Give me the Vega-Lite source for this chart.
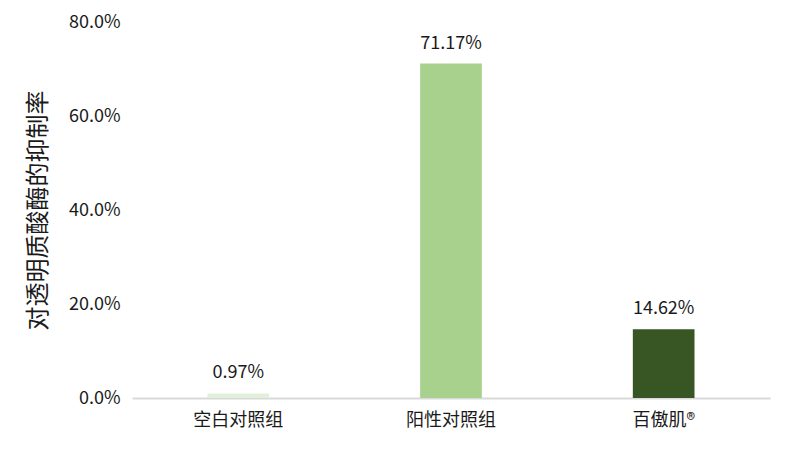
{
  "$schema": "https://vega.github.io/schema/vega-lite/v6.json",
  "width": 638,
  "height": 376,
  "autosize": {"type": "none"},
  "padding": {"left": 132, "top": 22, "right": 22, "bottom": 53},
  "background": "white",
  "data": {
    "values": [
      {"group": "空白对照组", "rate": 0.0097},
      {"group": "阳性对照组", "rate": 0.7117},
      {"group": "百傲肌®", "rate": 0.1462}
    ]
  },
  "encoding": {
    "x": {
      "field": "group",
      "type": "nominal",
      "sort": null,
      "title": null,
      "scale": {"paddingInner": 0.71, "paddingOuter": 0.355},
      "axis": {
        "labelAngle": 0,
        "ticks": false,
        "domainColor": "#d9d9d9",
        "domainWidth": 2,
        "labelPadding": 13,
        "labelFontSize": 18,
        "labelColor": "#1a1a1a"
      }
    },
    "y": {
      "field": "rate",
      "type": "quantitative",
      "title": "对透明质酸酶的抑制率",
      "scale": {"domain": [0, 0.8]},
      "axis": {
        "format": ".1%",
        "values": [0, 0.2, 0.4, 0.6, 0.8],
        "grid": false,
        "ticks": false,
        "domain": false,
        "labelPadding": 12,
        "labelFontSize": 18,
        "labelColor": "#1a1a1a",
        "titleFontSize": 24,
        "titleFontWeight": "normal",
        "titleColor": "#1a1a1a",
        "titlePadding": 18
      }
    }
  },
  "layer": [
    {
      "mark": {"type": "bar"},
      "encoding": {
        "color": {
          "field": "group",
          "type": "nominal",
          "legend": null,
          "scale": {
            "domain": ["空白对照组", "阳性对照组", "百傲肌®"],
            "range": ["#e2efd9", "#a9d18e", "#375623"]
          }
        }
      }
    },
    {
      "mark": {"type": "text", "baseline": "alphabetic", "dy": -15, "fontSize": 18, "color": "#1a1a1a"},
      "encoding": {
        "text": {"field": "rate", "type": "quantitative", "format": ".2%"}
      }
    }
  ],
  "config": {
    "font": "Noto Sans CJK SC",
    "view": {"stroke": null}
  }
}
